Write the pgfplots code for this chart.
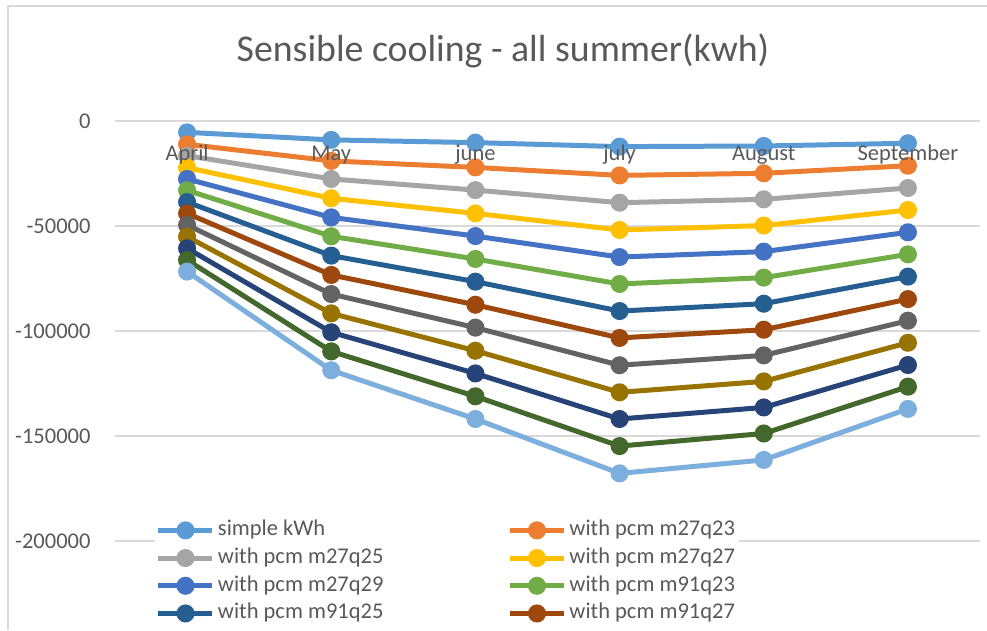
\documentclass[border=0pt]{standalone}
\usepackage{fontspec}
\setmainfont{Carlito}
\usepackage{pgfplots}
\usepackage{pgfplotstable}
\pgfplotsset{compat=1.18}

\definecolor{txt}{HTML}{595959}
\definecolor{gridc}{HTML}{D9D9D9}
\definecolor{c1}{HTML}{5B9BD5}
\definecolor{c2}{HTML}{ED7D31}
\definecolor{c3}{HTML}{A5A5A5}
\definecolor{c4}{HTML}{FFC000}
\definecolor{c5}{HTML}{4472C4}
\definecolor{c6}{HTML}{70AD47}
\definecolor{c7}{HTML}{255E91}
\definecolor{c8}{HTML}{9E480E}
\definecolor{c9}{HTML}{636363}
\definecolor{c10}{HTML}{997300}
\definecolor{c11}{HTML}{264478}
\definecolor{c12}{HTML}{43682B}
\definecolor{c13}{HTML}{7CAFDD}

% Sensible cooling per month (kWh), one column per case
\pgfplotstableread{
x  s1     s2     s3     s4     s5     s6     s7     s8      s9      s10     s11     s12     s13
0  -5400  -11100 -16500 -22200 -27600 -33000 -38600 -44000  -49500  -55100  -60600  -66200  -71700
1  -9000  -19000 -27600 -36800 -45900 -54900 -64100 -73300  -82400  -91600  -100600 -109700 -118700
2  -10300 -22100 -32900 -44000 -54800 -65700 -76500 -87500  -98400  -109400 -120200 -131100 -141900
3  -12200 -25900 -38900 -51900 -64800 -77600 -90500 -103300 -116300 -129200 -141900 -154800 -167800
4  -11900 -24900 -37300 -49800 -62200 -74600 -87000 -99400  -111600 -124000 -136400 -148800 -161400
5  -10600 -21300 -31900 -42400 -53000 -63500 -74100 -84800  -95100  -105600 -116200 -126500 -137100
}\cooling

\begin{document}
\begin{tikzpicture}[month/.style={text=txt, font=\fontsize{22.5}{27}\selectfont, anchor=base}]
\path[use as bounding box, clip] (0pt,0pt) rectangle (987pt,630pt);
% chart frame
\draw[gridc, line width=1.3pt] (8pt,0pt) -- (8pt,624pt) -- (990pt,624pt);
% title
\node[txt, font=\fontsize{37.8}{45}\selectfont] at (503pt,579pt) {Sensible cooling - all summer(kwh)};
\begin{axis}[
  at={(115pt,5pt)}, anchor=south west,
  scale only axis, width=865pt, height=504pt,
  xmin=-0.5, xmax=5.5, ymin=-240000, ymax=0,
  clip=false,
  axis line style={draw=none},
  major tick length=0pt,
  xtick={0,...,5},
  xticklabels={},
  ytick={-200000,-150000,-100000,-50000,0},
  yticklabels={-200000,-150000,-100000,-50000,0},
  scaled y ticks=false,
  yticklabel style={xshift=-21pt},
  ymajorgrids,
  grid style={gridc, line width=1.3pt},
  tick label style={text=txt, font=\fontsize{22.5}{27}\selectfont},
  legend columns=2,
  legend cell align=left,
  legend style={at={(0.046,0.213)}, anchor=north west, draw=none, fill=white,
    text=txt, font=\fontsize{22.5}{27}\selectfont,
    inner sep=1pt, row sep=4.7pt,
    nodes={inner xsep=3pt, inner ysep=1pt, text height=16pt, text depth=5pt},
    /tikz/every even column/.append style={column sep=121pt}},
  legend image code/.code={\draw[#1, line width=5pt, mark repeat=2, mark phase=2]
    plot coordinates {(0pt,0pt) (27pt,0pt) (54pt,0pt)};},
]
\addplot[c1, line width=5pt, mark=*, mark size=6.5pt, mark options={fill=c1}] table[x=x, y=s1] {\cooling};
\addplot[c2, line width=5pt, mark=*, mark size=6.5pt, mark options={fill=c2}] table[x=x, y=s2] {\cooling};
\addplot[c3, line width=5pt, mark=*, mark size=6.5pt, mark options={fill=c3}] table[x=x, y=s3] {\cooling};
\addplot[c4, line width=5pt, mark=*, mark size=6.5pt, mark options={fill=c4}] table[x=x, y=s4] {\cooling};
\addplot[c5, line width=5pt, mark=*, mark size=6.5pt, mark options={fill=c5}] table[x=x, y=s5] {\cooling};
\addplot[c6, line width=5pt, mark=*, mark size=6.5pt, mark options={fill=c6}] table[x=x, y=s6] {\cooling};
\addplot[c7, line width=5pt, mark=*, mark size=6.5pt, mark options={fill=c7}] table[x=x, y=s7] {\cooling};
\addplot[c8, line width=5pt, mark=*, mark size=6.5pt, mark options={fill=c8}] table[x=x, y=s8] {\cooling};
\addplot[c9, line width=5pt, mark=*, mark size=6.5pt, mark options={fill=c9}] table[x=x, y=s9] {\cooling};
\addplot[c10, line width=5pt, mark=*, mark size=6.5pt, mark options={fill=c10}] table[x=x, y=s10] {\cooling};
\addplot[c11, line width=5pt, mark=*, mark size=6.5pt, mark options={fill=c11}] table[x=x, y=s11] {\cooling};
\addplot[c12, line width=5pt, mark=*, mark size=6.5pt, mark options={fill=c12}] table[x=x, y=s12] {\cooling};
\addplot[c13, line width=5pt, mark=*, mark size=6.5pt, mark options={fill=c13}] table[x=x, y=s13] {\cooling};
\legend{simple kWh, with pcm m27q23, with pcm m27q25, with pcm m27q27,
  with pcm m27q29, with pcm m91q23, with pcm m91q25, with pcm m91q27}
% anchors on the zero line for the month names
\coordinate (m0) at (axis cs:0,0);
\coordinate (m1) at (axis cs:1,0);
\coordinate (m2) at (axis cs:2,0);
\coordinate (m3) at (axis cs:3,0);
\coordinate (m4) at (axis cs:4,0);
\coordinate (m5) at (axis cs:5,0);
\end{axis}
% month names, drawn over the series
\node[month] at ([yshift=-39pt]m0) {April};
\node[month] at ([yshift=-39pt]m1) {May};
\node[month] at ([yshift=-39pt]m2) {june};
\node[month] at ([yshift=-39pt]m3) {july};
\node[month] at ([yshift=-39pt]m4) {August};
\node[month] at ([yshift=-39pt]m5) {September};
\end{tikzpicture}
\end{document}
